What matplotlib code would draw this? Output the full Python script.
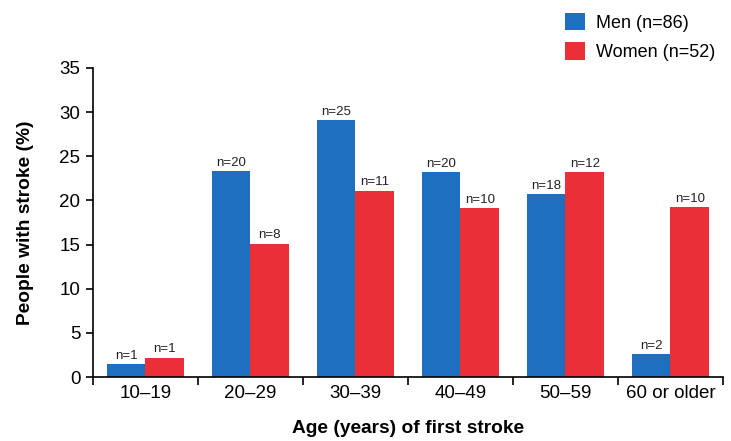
import matplotlib.pyplot as plt
import numpy as np

plt.rcParams["font.family"] = ["Liberation Sans", "DejaVu Sans"]

ages = ["10\u201319", "20\u201329", "30\u201339", "40\u201349", "50\u201359", "60 or older"]
men_pct = [1.5, 23.3, 29.1, 23.2, 20.7, 2.6]
women_pct = [2.2, 15.1, 21.1, 19.1, 23.2, 19.2]
men_n = [1, 20, 25, 20, 18, 2]
women_n = [1, 8, 11, 10, 12, 10]

blue = "#1f6fc1"
red = "#eb2f37"

fig = plt.figure(figsize=(7.31, 4.41), dpi=100)
ax = fig.add_axes([0.127, 0.145, 0.862, 0.701])

x = np.arange(len(ages))
w = 0.367
bm = ax.bar(x - w / 2, men_pct, w, color=blue, label="Men (n=86)")
bw = ax.bar(x + w / 2, women_pct, w, color=red, label="Women (n=52)")

for xi, v, n in zip(x - w / 2, men_pct, men_n):
    ax.text(xi, v + 0.25, f"n={n}", ha="center", va="bottom", fontsize=9.5, color="#222222")
for xi, v, n in zip(x + w / 2, women_pct, women_n):
    ax.text(xi, v + 0.25, f"n={n}", ha="center", va="bottom", fontsize=9.5, color="#222222")

ax.set_xlim(-0.5, len(ages) - 0.5)
ax.set_ylim(0, 35)
ax.set_yticks(range(0, 36, 5))
ax.set_xticks(x)
ax.set_xticklabels(ages)
ax.set_xticks(np.arange(-0.5, len(ages), 1), minor=True)
ax.tick_params(axis="x", which="major", length=0, labelsize=13.5, pad=6)
ax.tick_params(axis="x", which="minor", length=6, width=1.2, direction="out")
ax.tick_params(axis="y", length=5, width=1.2, labelsize=13.5, pad=4)

for side in ["top", "right"]:
    ax.spines[side].set_visible(False)
for side in ["left", "bottom"]:
    ax.spines[side].set_linewidth(1.2)

ax.set_xlabel("Age (years) of first stroke", fontsize=13.8, fontweight="bold", labelpad=13)
ax.set_ylabel("People with stroke (%)", fontsize=13.8, fontweight="bold", labelpad=18)

fig.legend(handles=[bm, bw], loc="upper left", bbox_to_anchor=(0.751, 1.008),
           frameon=False, fontsize=13, handlelength=1.1, handleheight=1.1,
           handletextpad=0.6, labelspacing=0.6)

fig.savefig("out.png", dpi=100)
